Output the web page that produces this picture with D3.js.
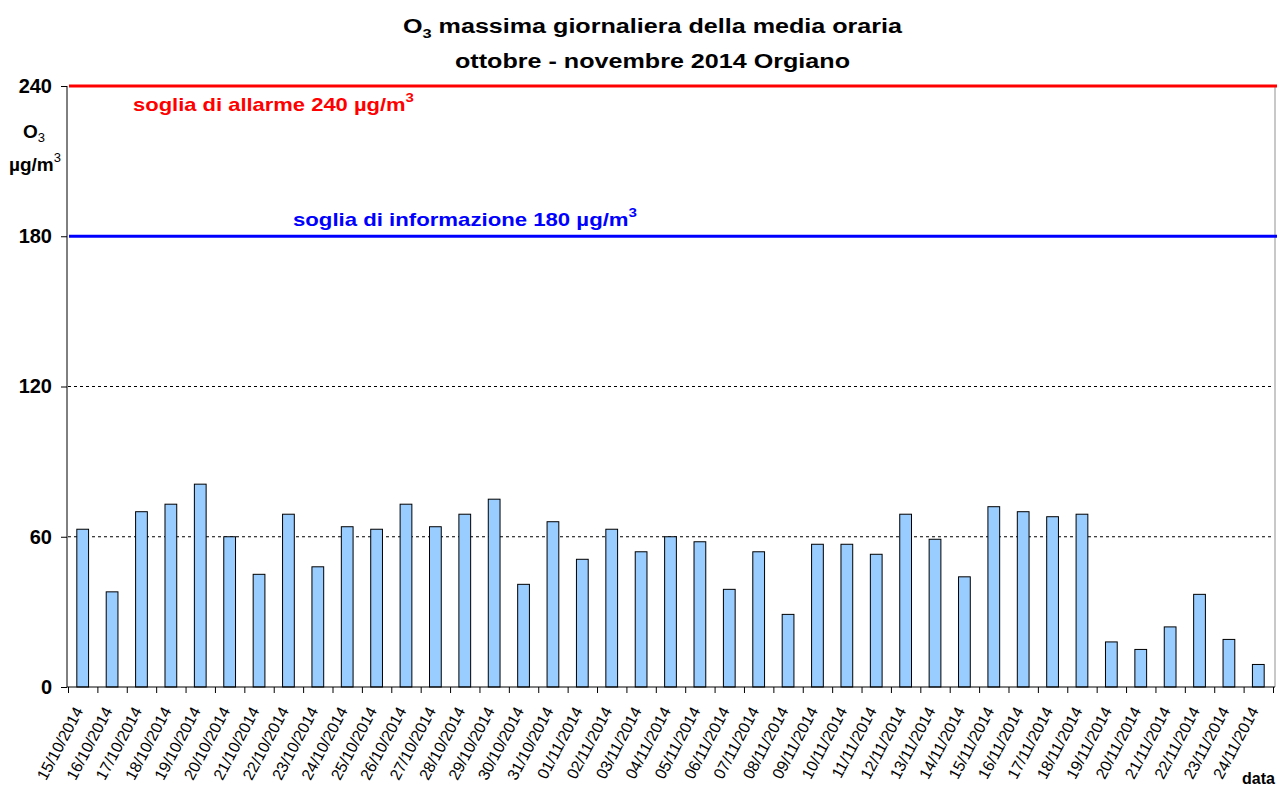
<!DOCTYPE html>
<html>
<head>
<meta charset="utf-8">
<script src="https://cdn.jsdelivr.net/npm/d3@7"></script>
<style>
  body { margin: 0; background: #fff; }
  svg { font-family: "Liberation Sans", Arial, sans-serif; }
</style>
</head>
<body>
<script>
// data
var dates = ["15/10/2014","16/10/2014","17/10/2014","18/10/2014","19/10/2014","20/10/2014","21/10/2014",
  "22/10/2014","23/10/2014","24/10/2014","25/10/2014","26/10/2014","27/10/2014","28/10/2014","29/10/2014",
  "30/10/2014","31/10/2014","01/11/2014","02/11/2014","03/11/2014","04/11/2014","05/11/2014","06/11/2014",
  "07/11/2014","08/11/2014","09/11/2014","10/11/2014","11/11/2014","12/11/2014","13/11/2014","14/11/2014",
  "15/11/2014","16/11/2014","17/11/2014","18/11/2014","19/11/2014","20/11/2014","21/11/2014","22/11/2014",
  "23/11/2014","24/11/2014"];
var o3 = [63,38,70,73,81,60,45,69,48,64,63,73,64,69,75,41,66,51,63,54,60,58,39,54,29,57,57,53,
  69,59,44,72,70,68,69,18,15,24,37,19,9];
var yTicks = [0, 60, 120, 180, 240];
var gridValues = [60, 120];
var thresholds = [
  {value: 240, color: "#ff0000", label: "soglia di allarme 240 µg/m", lx: 133, dy: 25, len: 281},
  {value: 180, color: "#0000ff", label: "soglia di informazione 180 µg/m", lx: 293, dy: -10, len: 344}
];

var width = 1277, height = 787;
var plotLeft = 68, plotRight = 1273, plotTop = 86, plotBottom = 687;

var svg = d3.select("body").append("svg")
    .attr("width", width)
    .attr("height", height);

var x = d3.scaleBand()
    .domain(dates)
    .range([plotLeft, plotRight])
    .paddingInner(0.6)
    .paddingOuter(0.3);

var y = d3.scaleLinear()
    .domain([0, 240])
    .range([plotBottom, plotTop]);

// title
var title = svg.append("text")
    .attr("x", 652.5).attr("y", 33)
    .attr("text-anchor", "middle")
    .attr("font-size", 20).attr("font-weight", "bold")
    .attr("textLength", 499).attr("lengthAdjust", "spacingAndGlyphs");
title.append("tspan").text("O");
title.append("tspan").attr("font-size", 13).attr("dy", 5).text("3");
title.append("tspan").attr("dy", -5).text(" massima giornaliera della media oraria");

svg.append("text")
    .attr("x", 652.5).attr("y", 68)
    .attr("text-anchor", "middle")
    .attr("font-size", 20).attr("font-weight", "bold")
    .attr("textLength", 395).attr("lengthAdjust", "spacingAndGlyphs")
    .text("ottobre - novembre 2014 Orgiano");

// right edge of plot
svg.append("line")
    .attr("x1", plotRight + 2).attr("x2", plotRight + 2)
    .attr("y1", plotTop).attr("y2", plotBottom)
    .attr("stroke", "#c8c8c8").attr("stroke-width", 2);

// dashed grid
svg.selectAll(".grid")
    .data(gridValues)
    .enter().append("line")
    .attr("class", "grid")
    .attr("x1", plotLeft).attr("x2", plotRight)
    .attr("y1", d => y(d)).attr("y2", d => y(d))
    .attr("stroke", "#000")
    .attr("stroke-dasharray", "3,3");

// bars
svg.selectAll(".bar")
    .data(o3)
    .enter().append("rect")
    .attr("class", "bar")
    .attr("x", (d, i) => x(dates[i]))
    .attr("y", d => y(d))
    .attr("width", x.bandwidth())
    .attr("height", d => y(0) - y(d))
    .attr("fill", "#99ccff")
    .attr("stroke", "#000")
    .attr("stroke-width", 1);

// threshold lines
thresholds.forEach(function(t) {
  svg.append("line")
      .attr("x1", plotLeft + 1).attr("x2", width)
      .attr("y1", y(t.value)).attr("y2", y(t.value))
      .attr("stroke", t.color).attr("stroke-width", 3);
  var lab = svg.append("text")
      .attr("x", t.lx).attr("y", y(t.value) + t.dy)
      .attr("fill", t.color)
      .attr("font-size", 19).attr("font-weight", "bold")
      .attr("textLength", t.len).attr("lengthAdjust", "spacingAndGlyphs");
  lab.append("tspan").text(t.label);
  lab.append("tspan").attr("font-size", 13).attr("dy", -9).text("3");
});

// y axis
var yAxis = svg.append("g")
    .attr("transform", `translate(${plotLeft - 1},0)`)
    .call(d3.axisLeft(y).tickValues(yTicks).tickSize(6).tickPadding(9));
yAxis.select(".domain").attr("stroke", "#000").attr("d", `M0,${plotBottom}V${plotTop}`);
yAxis.selectAll("text")
    .attr("font-size", 20).attr("font-weight", "bold")
    .attr("font-family", "Liberation Sans, Arial, sans-serif")
    .attr("fill", "#000");

// y label
var yl1 = svg.append("text")
    .attr("x", 34).attr("y", 138)
    .attr("text-anchor", "middle")
    .attr("font-size", 19).attr("font-weight", "bold");
yl1.append("tspan").text("O");
yl1.append("tspan").attr("font-size", 13).attr("font-weight", "normal").attr("dy", 4).text("3");
var yl2 = svg.append("text")
    .attr("x", 35).attr("y", 171)
    .attr("text-anchor", "middle")
    .attr("font-size", 19).attr("font-weight", "bold");
yl2.append("tspan").text("µg/m");
yl2.append("tspan").attr("font-size", 13).attr("font-weight", "normal").attr("dy", -9).text("3");

// x axis: boundary ticks
var xb = d3.scaleLinear().domain([0, dates.length]).range([plotLeft, plotRight]);
var xAxis = svg.append("g")
    .attr("transform", `translate(0,${plotBottom})`)
    .call(d3.axisBottom(xb).tickValues(d3.range(dates.length + 1)).tickSize(6).tickFormat(""));
xAxis.select(".domain").attr("stroke", "#000").attr("d", `M${plotLeft - 1},0H${plotRight + 2}`);

// x labels
svg.selectAll(".xlab")
    .data(dates)
    .enter().append("text")
    .attr("class", "xlab")
    .attr("transform", d => `translate(${x(d) + x.bandwidth() / 2 - 4},${plotBottom + 21}) rotate(-62)`)
    .attr("text-anchor", "end")
    .attr("dy", "0.35em")
    .attr("font-size", 16)
    .text(d => d);

svg.append("text")
    .attr("x", 1242).attr("y", 784)
    .attr("font-size", 16).attr("font-weight", "bold")
    .text("data");
</script>
</body>
</html>
